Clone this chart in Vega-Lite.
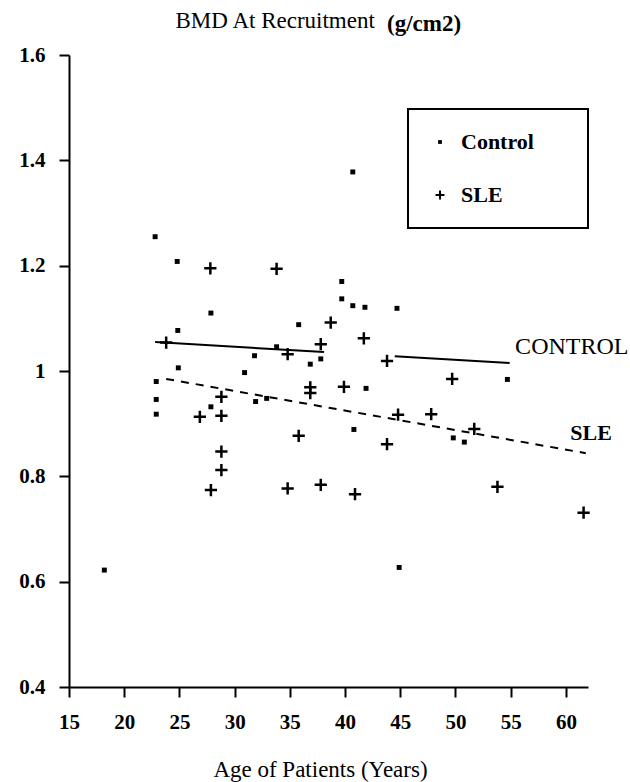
{
  "$schema": "https://vega.github.io/schema/vega-lite/v6.json",
  "width": 519,
  "height": 632,
  "autosize": {"type": "none"},
  "padding": {"left": 69, "top": 55, "right": 42, "bottom": 95},
  "background": "white",
  "config": {"view": {"stroke": null}, "font": "Liberation Serif, Times New Roman, serif", "legend": {"strokeWidth": 2}},
  "title": {"text": "(g/cm2)", "anchor": "start", "frame": "group", "dx": 318, "offset": -27, "fontSize": 23, "fontWeight": "bold", "font": "Liberation Serif, Times New Roman, serif", "color": "black"},
  "datasets": {
    "points": [
      {"group": "Control", "age": 22.8, "bmd": 1.255},
      {"group": "Control", "age": 24.8, "bmd": 1.208},
      {"group": "Control", "age": 27.85, "bmd": 1.110},
      {"group": "Control", "age": 24.85, "bmd": 1.077},
      {"group": "Control", "age": 35.8, "bmd": 1.088},
      {"group": "Control", "age": 33.8, "bmd": 1.046},
      {"group": "Control", "age": 31.8, "bmd": 1.029},
      {"group": "Control", "age": 24.9, "bmd": 1.006},
      {"group": "Control", "age": 30.9, "bmd": 0.997},
      {"group": "Control", "age": 22.9, "bmd": 0.980},
      {"group": "Control", "age": 22.9, "bmd": 0.946},
      {"group": "Control", "age": 22.9, "bmd": 0.918},
      {"group": "Control", "age": 39.7, "bmd": 1.170},
      {"group": "Control", "age": 39.7, "bmd": 1.137},
      {"group": "Control", "age": 40.7, "bmd": 1.124},
      {"group": "Control", "age": 41.8, "bmd": 1.121},
      {"group": "Control", "age": 44.7, "bmd": 1.119},
      {"group": "Control", "age": 37.8, "bmd": 1.023},
      {"group": "Control", "age": 36.85, "bmd": 1.013},
      {"group": "Control", "age": 41.9, "bmd": 0.967},
      {"group": "Control", "age": 27.85, "bmd": 0.932},
      {"group": "Control", "age": 31.9, "bmd": 0.942},
      {"group": "Control", "age": 32.9, "bmd": 0.948},
      {"group": "Control", "age": 40.7, "bmd": 1.378},
      {"group": "Control", "age": 54.7, "bmd": 0.984},
      {"group": "Control", "age": 40.8, "bmd": 0.889},
      {"group": "Control", "age": 49.8, "bmd": 0.873},
      {"group": "Control", "age": 50.8, "bmd": 0.865},
      {"group": "Control", "age": 18.2, "bmd": 0.622},
      {"group": "Control", "age": 44.9, "bmd": 0.627},
      {"group": "SLE", "age": 27.8, "bmd": 1.195},
      {"group": "SLE", "age": 33.8, "bmd": 1.194},
      {"group": "SLE", "age": 23.8, "bmd": 1.054},
      {"group": "SLE", "age": 34.8, "bmd": 1.032},
      {"group": "SLE", "age": 28.8, "bmd": 0.951},
      {"group": "SLE", "age": 38.7, "bmd": 1.092},
      {"group": "SLE", "age": 41.7, "bmd": 1.062},
      {"group": "SLE", "age": 43.8, "bmd": 1.019},
      {"group": "SLE", "age": 37.8, "bmd": 1.051},
      {"group": "SLE", "age": 36.85, "bmd": 0.969},
      {"group": "SLE", "age": 36.85, "bmd": 0.958},
      {"group": "SLE", "age": 39.9, "bmd": 0.970},
      {"group": "SLE", "age": 28.8, "bmd": 0.915},
      {"group": "SLE", "age": 26.85, "bmd": 0.913},
      {"group": "SLE", "age": 35.8, "bmd": 0.877},
      {"group": "SLE", "age": 43.8, "bmd": 0.861},
      {"group": "SLE", "age": 44.8, "bmd": 0.917},
      {"group": "SLE", "age": 47.8, "bmd": 0.918},
      {"group": "SLE", "age": 49.7, "bmd": 0.985},
      {"group": "SLE", "age": 28.8, "bmd": 0.847},
      {"group": "SLE", "age": 28.8, "bmd": 0.812},
      {"group": "SLE", "age": 27.85, "bmd": 0.774},
      {"group": "SLE", "age": 34.8, "bmd": 0.777},
      {"group": "SLE", "age": 37.8, "bmd": 0.784},
      {"group": "SLE", "age": 51.7, "bmd": 0.890},
      {"group": "SLE", "age": 40.9, "bmd": 0.766},
      {"group": "SLE", "age": 53.8, "bmd": 0.780},
      {"group": "SLE", "age": 61.6, "bmd": 0.731}
    ],
    "lines": [
      {"group": "Control", "segment": "a", "age": 22.8, "bmd": 1.055},
      {"group": "Control", "segment": "a", "age": 38.1, "bmd": 1.036},
      {"group": "Control", "segment": "b", "age": 44.5, "bmd": 1.028},
      {"group": "Control", "segment": "b", "age": 54.9, "bmd": 1.015},
      {"group": "SLE", "segment": "c", "age": 23.8, "bmd": 0.985},
      {"group": "SLE", "segment": "c", "age": 61.8, "bmd": 0.844}
    ],
    "labels": [
      {"label": "CONTROL", "age": 55.4, "bmd": 1.046},
      {"label": "SLE", "age": 60.4, "bmd": 0.882}
    ]
  },
  "encoding": {
    "x": {
      "field": "age", "type": "quantitative",
      "scale": {"domain": [15, 62], "nice": false, "zero": false},
      "axis": {
        "values": [15, 20, 25, 30, 35, 40, 45, 50, 55, 60],
        "title": "Age of Patients (Years)",
        "titleX": 251, "titleY": 89, "titleAlign": "center", "titleBaseline": "alphabetic",
        "titleFont": "Liberation Serif, Times New Roman, serif", "titleFontSize": 23, "titleFontWeight": "normal", "titleColor": "black",
        "labelFont": "Liberation Serif, Times New Roman, serif", "labelFontSize": 21, "labelFontWeight": "bold", "labelColor": "black",
        "labelPadding": 14, "tickSize": 10, "tickWidth": 2, "tickColor": "black",
        "domainColor": "black", "domainWidth": 2, "grid": false, "labelFlush": false
      }
    },
    "y": {
      "field": "bmd", "type": "quantitative",
      "scale": {"domain": [0.4, 1.6], "nice": false, "zero": false},
      "axis": {
        "values": [0.4, 0.6, 0.8, 1.0, 1.2, 1.4, 1.6],
        "format": "~g",
        "title": "BMD At Recruitment",
        "titleAngle": 0, "titleAlign": "left", "titleBaseline": "alphabetic",
        "titleX": 106, "titleY": -28,
        "titleFont": "Liberation Serif, Times New Roman, serif", "titleFontSize": 23, "titleFontWeight": "normal", "titleColor": "black",
        "labelFont": "Liberation Serif, Times New Roman, serif", "labelFontSize": 21, "labelFontWeight": "bold", "labelColor": "black",
        "labelPadding": 14, "tickSize": 10, "tickWidth": 2, "tickColor": "black",
        "domainColor": "black", "domainWidth": 2, "grid": false, "labelFlush": false
      }
    }
  },
  "layer": [
    {
      "data": {"name": "lines"},
      "transform": [{"filter": "datum.group === 'Control'"}],
      "mark": {"type": "line", "color": "black", "strokeWidth": 2},
      "encoding": {"detail": {"field": "segment"}}
    },
    {
      "data": {"name": "lines"},
      "transform": [{"filter": "datum.group === 'SLE'"}],
      "mark": {"type": "line", "color": "black", "strokeWidth": 2, "strokeDash": [8, 7]},
      "encoding": {"detail": {"field": "segment"}}
    },
    {
      "data": {"name": "points"},
      "mark": {"type": "point", "filled": false, "color": "black", "strokeWidth": 2.5, "size": 150, "opacity": 1},
      "encoding": {
        "shape": {
          "field": "group", "type": "nominal",
          "scale": {"domain": ["Control", "SLE"], "range": ["M-0.2,-0.2H0.2V0.2H-0.2Z", "M-1,0H1M0,-1V1"]},
          "legend": {
            "orient": "none", "legendX": 339, "legendY": 54, "title": null,
            "padding": 22, "strokeColor": "black", "fillColor": "white",
            "labelFont": "Liberation Serif, Times New Roman, serif", "labelFontSize": 22, "labelFontWeight": "bold", "labelColor": "black",
            "symbolSize": 80, "symbolStrokeWidth": 2, "symbolStrokeColor": "black",
            "rowPadding": 31, "labelOffset": 10, "symbolOffset": -1,
            "labelExpr": "datum.label + '\u2800\u2800'"
          }
        }
      }
    },
    {
      "data": {"name": "labels"},
      "transform": [{"filter": "datum.label === 'CONTROL'"}],
      "mark": {"type": "text", "align": "left", "baseline": "middle", "font": "Liberation Serif, Times New Roman, serif", "fontSize": 24, "color": "black"},
      "encoding": {"text": {"field": "label"}}
    },
    {
      "data": {"name": "labels"},
      "transform": [{"filter": "datum.label === 'SLE'"}],
      "mark": {"type": "text", "align": "left", "baseline": "middle", "font": "Liberation Serif, Times New Roman, serif", "fontSize": 22, "fontWeight": "bold", "color": "black"},
      "encoding": {"text": {"field": "label"}}
    }
  ]
}
